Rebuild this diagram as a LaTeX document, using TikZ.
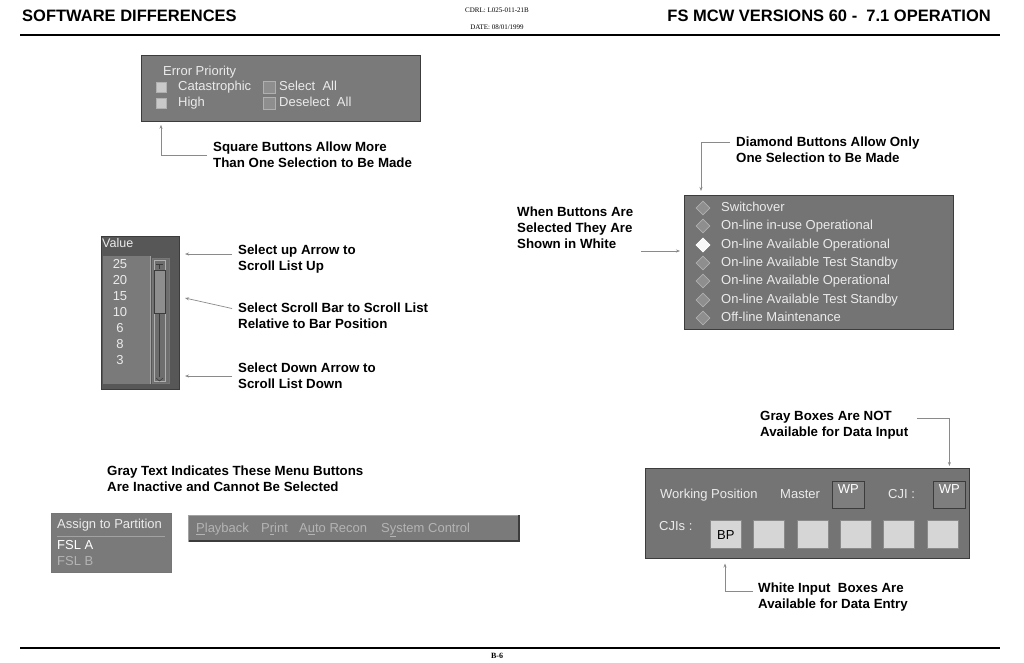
\documentclass[tikz,border=0pt]{standalone}
\usepackage{fontspec}
\setmainfont{Liberation Sans}
\newfontfamily\serifhead{Liberation Serif}
\usetikzlibrary{arrows.meta,shapes.geometric}
\definecolor{panelgray}{HTML}{7A7A7A}
\definecolor{paneledge}{HTML}{3C3C3C}
\definecolor{darkpanel}{HTML}{575757}
\definecolor{lighttext}{HTML}{EBEBEB}
\definecolor{inactivetext}{HTML}{B4B4B4}
\definecolor{conngray}{HTML}{8A8A8A}
\definecolor{btngray}{HTML}{8E8E8E}
\definecolor{btnedge}{HTML}{B0B0B0}
\definecolor{inputbox}{HTML}{D6D6D6}
\definecolor{wpgray}{HTML}{7E7E7E}
\tikzset{
  note/.style={font=\bfseries\fontsize{13.3}{16}\selectfont, anchor=west, align=left, inner sep=0pt},
  head/.style={font=\bfseries\fontsize{16.5}{18}\selectfont, inner sep=0pt},
  small/.style={font=\serifhead\fontsize{7}{8}\selectfont, inner sep=0pt},
  panel/.style={fill=panelgray, draw=paneledge, line width=0.8pt},
  ptext/.style={text=lighttext, font=\fontsize{13}{15}\selectfont, anchor=west, inner sep=0pt, text height=9.5pt, text depth=2.5pt},
  conn/.style={draw=conngray, line width=0.7pt},
  arr/.style={conn, -{Stealth[length=4pt,width=3pt]}},
  checkbox/.style={draw=btnedge, fill=btngray, minimum size=10pt, inner sep=0pt, line width=0.6pt},
  diam/.style={diamond, draw=btnedge, fill=btngray, minimum size=14pt, inner sep=0pt, line width=0.6pt},
  gbox/.style={draw=paneledge, fill=wpgray, minimum width=32pt, minimum height=27pt, inner sep=0pt, line width=0.8pt},
  wbox/.style={draw=paneledge!60, fill=inputbox, minimum width=31pt, minimum height=28pt, inner sep=0pt, line width=0.5pt},
}
\begin{document}
\begin{tikzpicture}[x=1pt,y=-1pt]
\useasboundingbox (0,0) rectangle (1024,662);
\fill[white] (0,0) rectangle (1024,662);

% ---------- header / footer ----------
\node[head, anchor=west] (h1) at (22,16) {SOFTWARE DIFFERENCES};
\node[head, anchor=east] (h2) at (991,16) {FS MCW VERSIONS 60 -\ \ 7.1 OPERATION};
\node[small] (cdrl) at (497,10) {CDRL: L025-011-21B};
\node[small] (date) at (497,27) {DATE: 08/01/1999};
\draw[line width=1.6pt] (20,35) -- (1000,35);
\draw[line width=1.6pt] (20,648) -- (1000,648);
\node[font=\serifhead\bfseries\fontsize{8}{9}\selectfont, inner sep=0pt] (pg) at (497,656) {B-6};

% ---------- Error Priority panel ----------
\node[panel, minimum width=279pt, minimum height=66pt, anchor=north west, inner sep=0pt] (ep) at (141,55) {};
\node[ptext] (eptitle) at (163,72) {Error Priority};
\node[checkbox, fill=inputbox!85!gray] (cb1) at (161,87) {};
\node[checkbox, fill=inputbox!85!gray] (cb2) at (161,103) {};
\node[ptext] (cat) at (178,87) {Catastrophic};
\node[ptext] (high) at (178,103) {High};
\node[checkbox, minimum size=12pt] (sa) at (269,87) {};
\node[checkbox, minimum size=12pt] (da) at (269,103) {};
\node[ptext] (sat) at (279,87) {Select\ \ All};
\node[ptext] (dat) at (279,103) {Deselect\ \ All};

\node[note] (sq) at (213,154.5) {Square Buttons Allow More\\Than One Selection to Be Made};
\draw[arr] ([xshift=-6pt,yshift=-1pt]sq.west) -| ([yshift=-3pt]ep.south -| cb2);

% ---------- Value list ----------
\node[fill=darkpanel, draw=paneledge, minimum width=78pt, minimum height=153pt, anchor=north west, inner sep=0pt] (vb) at (101,236) {};
\node[ptext, font=\fontsize{12.5}{14}\selectfont] (vt) at (102,244) {Value};
\fill[panelgray] (103,256) rectangle (150,384);
\draw[btngray!80!white, line width=1pt] (150.5,256) -- (150.5,384);
\fill[panelgray!90!black] (152,258) rectangle (169,383);
\draw[paneledge!70, line width=0.6pt] (152,258) rectangle (169,383);
\draw[btnedge, line width=0.5pt] (154,260) rectangle (165,381);
\fill[btngray] (154,270) rectangle (165,313);
\draw[paneledge, line width=0.5pt] (154,270) rectangle (165,313);
\draw[paneledge, line width=0.6pt] (159.5,313) -- (159.5,377);
\draw[paneledge, line width=0.6pt] (156,264) -- (163,264) (159.5,264) -- (159.5,269);
\draw[paneledge, line width=0.6pt] (156,378) -- (159.5,381) -- (163,378);
\foreach \v/\yy [count=\i] in {25/265,20/281,15/297,10/313,6/329,8/345,3/361}
  \node[ptext, anchor=center] (val\i) at (120,\yy) {\v};

\coordinate (upend) at (185,254);
\coordinate (barend) at (185,298);
\coordinate (dnend) at (185,376);
\node[note] (upn) at (238,259.5) {Select up Arrow to\\Scroll List Up};
\node[note] (barn) at (238,315.5) {Select Scroll Bar to Scroll List\\Relative to Bar Position};
\node[note] (dnn) at (238,375.5) {Select Down Arrow to\\Scroll List Down};
\draw[arr] ([xshift=-6pt]upn.west |- upend) -- (upend);
\draw[arr] ([xshift=-6pt,yshift=7pt]barn.west) -- (barend);
\draw[arr] ([xshift=-6pt]dnn.west |- dnend) -- (dnend);

% ---------- Diamond panel ----------
\node[panel, fill=panelgray!95!black, minimum width=269pt, minimum height=134pt, anchor=north west, inner sep=0pt] (dp) at (684,195) {};
\foreach \t/\yy [count=\i] in {Switchover/208,On-line in-use Operational/226,On-line Available Operational/245,On-line Available Test Standby/263,On-line Available Operational/281,On-line Available Test Standby/300,Off-line Maintenance/318}{
  \node[diam] (d\i) at (703,\yy) {};
  \node[ptext] (dt\i) at (721,\yy) {\t};
}
\node[diam, fill=white!94!gray, draw=white] (d3w) at (703,245) {};

\node[note] (dn) at (736,149.5) {Diamond Buttons Allow Only\\One Selection to Be Made};
\draw[arr] ([xshift=-6pt,yshift=7pt]dn.west) -| ([yshift=4pt]dp.north -| 701,0);

\node[note] (wn) at (517,228) {When Buttons Are\\Selected They Are\\Shown in White};
\coordinate (wstart) at (641,251);
\draw[arr] (wstart) -- ([xshift=-4pt]dp.west |- wstart);

% ---------- Gray text / inactive menus ----------
\node[note] (gn) at (107,479) {Gray Text Indicates These Menu Buttons\\Are Inactive and Cannot Be Selected};

\node[panel, draw=paneledge!70, minimum width=120pt, minimum height=59pt, anchor=north west, inner sep=0pt] (ap) at (51,513) {};
\node[ptext] (apt) at (57,525) {Assign to Partition};
\draw[panelgray!70!white, line width=0.6pt] (57,536.5) -- (165,536.5);
\node[ptext, text=white] (fa) at (57,546) {FSL A};
\node[ptext, text=inactivetext] (fb) at (57,562) {FSL B};

\node[panel, draw=panelgray!70!white, minimum width=330pt, minimum height=26pt, anchor=north west, inner sep=0pt] (mb) at (188,514.5) {};
\draw[paneledge, line width=1.2pt] (189,541) -- (519,541) -- (519,515);
\node[ptext, text=inactivetext] (m1) at (196,529) {\underline{P}layback};
\node[ptext, text=inactivetext] (m2) at (261,529) {P\underline{r}int};
\node[ptext, text=inactivetext] (m3) at (299,529) {A\underline{u}to Recon};
\node[ptext, text=inactivetext] (m4) at (381,529) {S\underline{y}stem Control};

% ---------- Working Position panel ----------
\node[panel, fill=panelgray!95!black, minimum width=324pt, minimum height=90pt, anchor=north west, inner sep=0pt] (wp) at (645,468) {};
\node[ptext] (wpt) at (660,495) {Working Position};
\node[ptext] (mst) at (780,495) {Master};
\node[gbox, anchor=north west] (wp1) at (832,481) {};
\node[ptext, text=white, anchor=north] (wp1t) at ([yshift=-3pt]wp1.north) {WP};
\node[ptext] (cji) at (888,495) {CJI :};
\node[gbox, anchor=north west] (wp2) at (933,481) {};
\node[ptext, text=white, anchor=north] (wp2t) at ([yshift=-3pt]wp2.north) {WP};
\node[ptext] (cjis) at (659,527) {CJIs :};
\foreach \xx [count=\i] in {710,753,797,840,883,927}
  \node[wbox, anchor=north west] (in\i) at (\xx,520) {};
\node[font=\fontsize{13}{15}\selectfont, inner sep=0pt] (bp) at ([yshift=-1pt]in1.center) {BP};

\node[note] (gb) at (760,425) {Gray Boxes Are NOT\\Available for Data Input};
\draw[arr] ([xshift=157pt,yshift=7pt]gb.west) -| ([yshift=2pt]wp.north -| wp2.center);

\node[note] (wi) at (758,597) {White Input\ \ Boxes Are\\Available for Data Entry};
\draw[arr] ([xshift=-5pt,yshift=6pt]wi.west) -| ([yshift=-15pt]in1.south -| 725,0);

\end{tikzpicture}
\end{document}
